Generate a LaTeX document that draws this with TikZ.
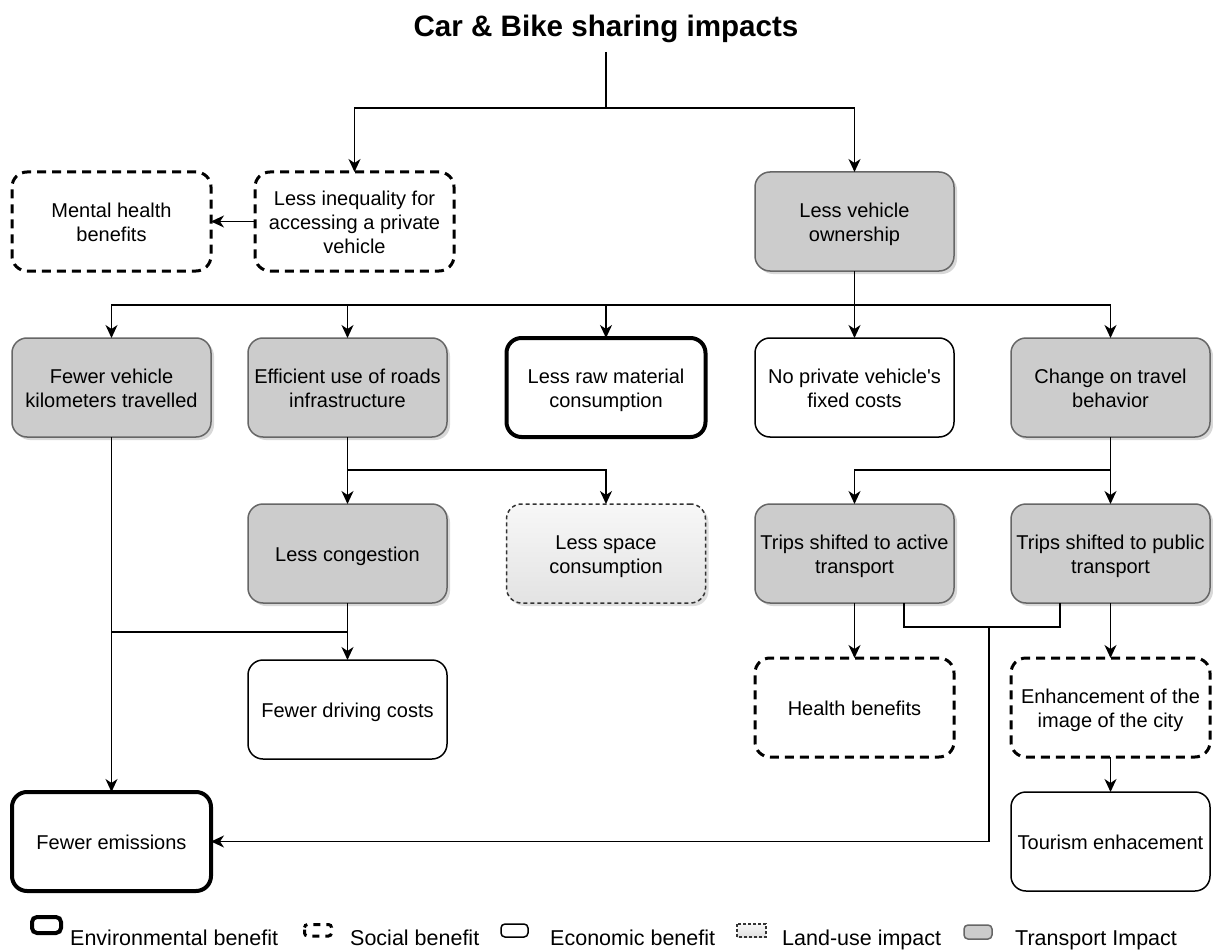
\documentclass[tikz,border=0pt]{standalone}
\usepackage{fontspec}
\setmainfont{Liberation Sans}
\usetikzlibrary{arrows.meta,shadows,calc}
\newcommand\boxfont{\fontsize{20}{24}\selectfont}
\newcommand\legfont{\fontsize{21.5}{25}\selectfont}
% stacked box text: every line gets the same strut, block sits slightly low
\newcommand\bx[1]{\raisebox{0pt}[\dimexpr\height+7pt\relax][\depth]{\begin{tabular}{@{}c@{}}#1\end{tabular}}}
\definecolor{tgray}{HTML}{CCCCCC}
\definecolor{tborder}{HTML}{666666}
\tikzset{
  base/.style={rounded corners=15pt, minimum width=199pt, minimum height=99pt,
    font=\boxfont, inner sep=0pt, outer sep=0pt},
  env/.style={base, draw=black, line width=4pt, fill=white},
  social/.style={base, draw=black, line width=3pt, dash pattern=on 9pt off 6pt, fill=white},
  econ/.style={base, draw=black, line width=1.5pt, fill=white},
  landuse/.style={base, draw=black!80, line width=1.5pt, dash pattern=on 4pt off 3pt,
    top color=black!3, bottom color=black!11,
    drop shadow={shadow xshift=3pt, shadow yshift=-3pt, fill=black!25, opacity=0.5}},
  transport/.style={base, draw=tborder, line width=1.5pt, fill=tgray,
    drop shadow={shadow xshift=3pt, shadow yshift=-3pt, fill=black!30, opacity=0.5}},
  conn/.style={line width=1.6pt, draw=black},
  arr/.style={conn, -{Stealth[length=13pt, width=12pt, inset=4pt]}},
  legtext/.style={anchor=base west, font=\legfont, inner sep=0pt},
}
\begin{document}
\begin{tikzpicture}[x=1pt, y=-1pt]
\useasboundingbox (0,0) rectangle (1213,952);

% title
\node[font=\fontsize{29.6}{34}\selectfont\bfseries, anchor=south, minimum height=46pt, inner sep=0pt] (title) at (606,52) {Car \& Bike sharing impacts};

% first level
\node[social] (ineq) at (354.5,221.5) {\bx{Less inequality for\\accessing a private\\vehicle}};
\node[social] (mental) at (111.5,221.5) {\bx{Mental health\\benefits}};
\node[transport] (own) at (854.5,221.5) {\bx{Less vehicle\\ownership}};

% second level
\node[transport] (fvk) at (111.5,387.5) {\bx{Fewer vehicle\\kilometers travelled}};
\node[transport] (eff) at (347.5,387.5) {\bx{Efficient use of roads\\infrastructure}};
\node[env] (raw) at (606,387.5) {\bx{Less raw material\\consumption}};
\node[econ] (nopriv) at (854.5,387.5) {\bx{No private vehicle\textquotesingle s\\fixed costs}};
\node[transport] (change) at (1110.5,387.5) {\bx{Change on travel\\behavior}};

% third level
\node[transport] (cong) at (347.5,553.5) {\bx{Less congestion}};
\node[landuse] (space) at (606,553.5) {\bx{Less space\\consumption}};
\node[transport] (active) at (854.5,553.5) {\bx{Trips shifted to active\\transport}};
\node[transport] (public) at (1110.5,553.5) {\bx{Trips shifted to public\\transport}};

% fourth level
\node[econ] (driving) at (347.5,709.5) {\bx{Fewer driving costs}};
\node[social] (health) at (854.5,707.5) {\bx{Health benefits}};
\node[social] (enh) at (1110.5,707.5) {\bx{Enhancement of the\\image of the city}};

% bottom level
\node[env] (emis) at (111.5,841.5) {\bx{Fewer emissions}};
\node[econ] (tour) at (1110.5,841.5) {\bx{Tourism enhacement}};

% junction points
\coordinate (j1) at (606,108);
\coordinate (j2) at (854.5,305);
\coordinate (j3) at (347.5,470);
\coordinate (j4) at (1110.5,470);
\coordinate (j5) at (347.5,632);
\coordinate (j6) at (989,627);

% connectors
\draw[conn] (title.south) -- (j1);
\draw[arr] (j1) -| (ineq.north);
\draw[arr] (j1) -| (own.north);
\draw[arr] (ineq.west) -- (mental.east);

\draw[conn] (own.south) -- (j2);
\draw[arr] (j2) -| (fvk.north);
\draw[arr] (j2) -| (eff.north);
\draw[arr] (j2) -| (raw.north);
\draw[arr] (j2) -- (nopriv.north);
\draw[arr] (j2) -| (change.north);

\draw[conn] (eff.south) -- (j3);
\draw[arr] (j3) -- (cong.north);
\draw[arr] (j3) -| (space.north);

\draw[conn] (change.south) -- (j4);
\draw[arr] (j4) -| (active.north);
\draw[arr] (j4) -- (public.north);

\draw[arr] (fvk.south) -- (emis.north);
\draw[arr] (cong.south) -- (driving.north);
\draw[conn] (j5) -- (j5 -| fvk.south);

\draw[conn] ([xshift=49.5pt]active.south) |- (j6);
\draw[conn] ([xshift=-50.5pt]public.south) |- (j6);
\draw[arr] (j6) |- (emis.east);

\draw[arr] (active.south) -- (health.north);
\draw[arr] (public.south) -- (enh.north);
\draw[arr] (enh.south) -- (tour.north);

% legend
\draw[black, line width=4pt, rounded corners=5pt] (32,917) rectangle (61,933);
\node[legtext] (lenv) at (70,945) {Environmental benefit};
\draw[black, line width=3pt, dash pattern=on 7pt off 6pt, dash phase=-2pt, rounded corners=3pt] (304.5,924.5) rectangle (331.5,936);
\node[legtext] (lsoc) at (350,945) {Social benefit};
\draw[black, line width=1.5pt, rounded corners=4pt] (501,924) rectangle (528,937);
\node[legtext] (leco) at (550,945) {Economic benefit};
\draw[black!80, line width=1.2pt, dash pattern=on 3pt off 2pt, top color=black!3, bottom color=black!12] (737,924) rectangle (766,937);
\node[legtext] (lland) at (782,945) {Land-use impact};
\draw[tborder, line width=1.5pt, fill=tgray, rounded corners=4pt] (964,925) rectangle (992,939);
\node[legtext] (ltra) at (1015,945) {Transport Impact};
\end{tikzpicture}
\end{document}
